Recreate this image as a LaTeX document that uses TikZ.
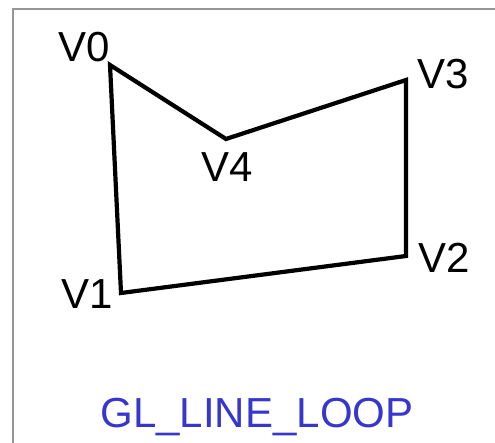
\documentclass[tikz,border=0pt]{standalone}
\usepackage{fontspec}
\setmainfont{Liberation Sans}
\definecolor{framegray}{RGB}{150,150,150}
\definecolor{titleblue}{RGB}{55,55,205}
\begin{document}
\begin{tikzpicture}[x=1pt,y=-1pt,
  vlabel/.style={inner sep=0pt,font=\fontsize{42}{42}\selectfont},
  title/.style={inner sep=0pt,text=titleblue,font=\fontsize{42}{42}\selectfont},
  loopline/.style={line width=4.2pt,line join=miter}]
\useasboundingbox (0,0) rectangle (495,443);
\fill[white] (0,0) rectangle (495,443);
\coordinate (fb) at (13,443);
\coordinate (fc) at (13,9);
\coordinate (fr) at (495,9);
\draw[framegray,line width=2.5pt] (fb) -- (fc) -- (fr);
\coordinate (p0) at (110,65);
\coordinate (p1) at (121,293);
\coordinate (p2) at (406,256);
\coordinate (p3) at (406,80);
\coordinate (p4) at (226,139);
\draw[loopline] (p0) -- (p1) -- (p2) -- (p3) -- (p4) -- cycle;
\node[vlabel] (l0) at (84,47.5) {V0};
\node[vlabel] (l1) at (87.5,294) {V1};
\node[vlabel] (l2) at (444,258) {V2};
\node[vlabel] (l3) at (443.5,74) {V3};
\node[vlabel] (l4) at (227.5,167) {V4};
\node[title] (t) at (257,417) {GL\_LINE\_LOOP};
\end{tikzpicture}
\end{document}
